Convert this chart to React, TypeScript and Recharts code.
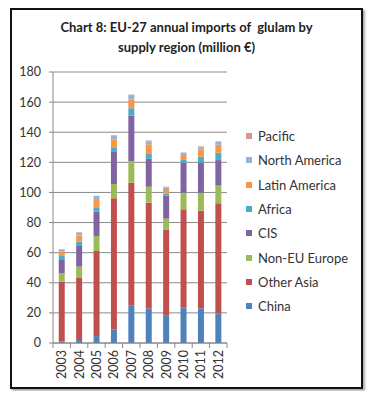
import React from "react";
import { BarChart, Bar, XAxis, YAxis, CartesianGrid } from "recharts";

const years = ["2003", "2004", "2005", "2006", "2007", "2008", "2009", "2010", "2011", "2012"];
const china = [1, 2, 4.6, 9.1, 24.8, 23, 18.1, 23.7, 23, 19.7];
const otherAsia = [39.7, 41.6, 56.5, 87, 81.7, 70.2, 57, 65.1, 64.9, 73.1];
const nonEuEurope = [5.6, 7.1, 10, 9.5, 14.4, 10.6, 7.5, 11, 11.9, 11.7];
const cis = [8.8, 14.2, 16.1, 21.3, 30.1, 18.6, 15.2, 20, 20, 17];
const africa = [2.7, 2.4, 2.9, 3.1, 4.9, 3.1, 1.6, 2.2, 4, 4.9];
const latinAmerica = [2.8, 4, 4.9, 5.3, 5.9, 6.5, 2.9, 2.9, 4.8, 5.3];
const northAmerica = [1.2, 2, 2.6, 2.2, 2.9, 1.7, 1.1, 1.3, 1.4, 2];
const pacific = [0.4, 0.3, 0.2, 0.5, 0.3, 0.8, 0.4, 0.3, 0.6, 0.3];
const yTicks = [0, 20, 40, 60, 80, 100, 120, 140, 160, 180];

// bottom-to-top stacking order
const series = [
  { key: "China", values: china, color: "#4F81BD" },
  { key: "Other Asia", values: otherAsia, color: "#C0504D" },
  { key: "Non-EU Europe", values: nonEuEurope, color: "#9BBB59" },
  { key: "CIS", values: cis, color: "#8064A2" },
  { key: "Africa", values: africa, color: "#4BACC6" },
  { key: "Latin America", values: latinAmerica, color: "#F79646" },
  { key: "North America", values: northAmerica, color: "#95B3D7" },
  { key: "Pacific", values: pacific, color: "#D99694" },
];

const data = years.map((year, i) => {
  const row: Record<string, string | number> = { year };
  series.forEach((s) => {
    row[s.key] = s.values[i];
  });
  return row;
});

const FONT = "Lato, 'Open Sans', sans-serif";
const BAND = 17.4; // category width in px, used for the between-category tick marks

const YearTick = (props: any) => {
  const { x, y, payload } = props;
  return (
    <g>
      <line x1={x - BAND / 2} y1={y - 8} x2={x - BAND / 2} y2={y - 3} stroke="#888" />
      {payload.index === years.length - 1 && (
        <line x1={x + BAND / 2} y1={y - 8} x2={x + BAND / 2} y2={y - 3} stroke="#888" />
      )}
      <text
        x={0}
        y={0}
        transform={`translate(${x + 4.5},${y - 1}) rotate(-90)`}
        textAnchor="end"
        fontSize={12.5}
        fill="#333"
        fontFamily={FONT}
      >
        {payload.value}
      </text>
    </g>
  );
};

const LegendBox = () => (
  <div style={{ fontFamily: FONT, fontSize: 13, color: "#333" }}>
    {[...series].reverse().map((s) => (
      <div key={s.key} style={{ display: "flex", alignItems: "center", height: 24.3 }}>
        <span style={{ width: 6, height: 6, background: s.color, marginRight: 6, display: "inline-block" }} />
        {s.key}
      </div>
    ))}
  </div>
);

export default function App() {
  return (
    <div style={{ position: "relative", width: 377, height: 399, margin: -8, background: "#fff" }}>
      <div
        style={{
          position: "absolute",
          left: 10,
          top: 8,
          width: 349,
          height: 377,
          border: "2px solid #111",
          boxShadow: "2px 2px 2px #aaa",
        }}
      />
      <div
        style={{
          position: "absolute",
          left: 10,
          top: 17,
          width: 353,
          textAlign: "center",
          fontFamily: FONT,
          fontWeight: 700,
          fontSize: 13,
          lineHeight: "20px",
          color: "#222",
          whiteSpace: "pre",
        }}
      >
        {"Chart 8: EU-27 annual imports of  glulam by\nsupply region (million \u20ac)"}
      </div>
      <div style={{ position: "absolute", left: 246, top: 124 }}>
        <LegendBox />
      </div>
      <div style={{ position: "absolute", left: 0, top: 0 }}>
        <BarChart
          width={377}
          height={399}
          data={data}
          margin={{ top: 72, right: 150, left: 13, bottom: 16 }}
          barCategoryGap="33%"
        >
          <CartesianGrid vertical={false} stroke="#8a8a8a" />
          <XAxis
            dataKey="year"
            height={40}
            tick={<YearTick />}
            tickLine={false}
            axisLine={{ stroke: "#888" }}
            interval={0}
          />
          <YAxis
            width={40}
            domain={[0, 180]}
            ticks={yTicks}
            tickSize={4}
            tickMargin={8}
            tickLine={{ stroke: "#888" }}
            axisLine={{ stroke: "#888" }}
            tick={{ fontSize: 12.5, fill: "#333", fontFamily: FONT }}
          />
          {series.map((s) => (
            <Bar key={s.key} dataKey={s.key} stackId="a" fill={s.color} isAnimationActive={false} />
          ))}
        </BarChart>
      </div>
    </div>
  );
}
